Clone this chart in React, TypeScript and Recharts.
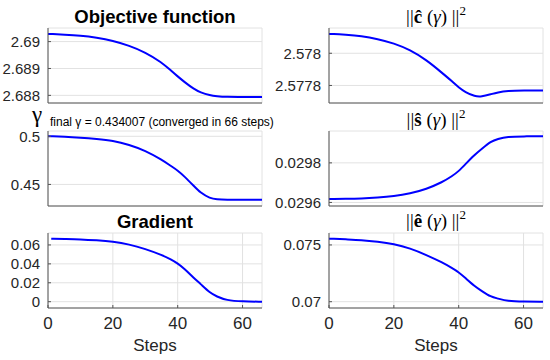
import React from 'react';
import { LineChart, Line, XAxis, YAxis, CartesianGrid } from 'recharts';

const steps = [0, 1, 5, 10, 15, 20, 25, 30, 35, 38, 40, 42, 45, 47, 50, 52, 55, 60, 66];

const objective = [2.690284, 2.690282, 2.690259, 2.690222, 2.690148, 2.690037, 2.689852, 2.689605, 2.689235, 2.688914, 2.688704, 2.688506, 2.688235, 2.688111, 2.688, 2.687969, 2.687941, 2.687938, 2.687938];
const cHatNorm = [2.57812, 2.57812, 2.578115, 2.578107, 2.578089, 2.578062, 2.578021, 2.577959, 2.577876, 2.577825, 2.577788, 2.577759, 2.577732, 2.57773, 2.577746, 2.577757, 2.577767, 2.577769, 2.577769];
const gamma = [0.5, 0.5, 0.499655, 0.498621, 0.497241, 0.495517, 0.491379, 0.485172, 0.475862, 0.468966, 0.464483, 0.458621, 0.448276, 0.441379, 0.435517, 0.434483, 0.434007, 0.434007, 0.434007];
const sHatNorm = [0.029617, 0.029617, 0.029618, 0.02962, 0.029625, 0.029632, 0.029645, 0.029667, 0.029703, 0.029733, 0.029758, 0.029792, 0.029842, 0.029869, 0.029909, 0.029921, 0.029933, 0.029934, 0.029934];
const gradient = [null, 0.066667, 0.066316, 0.065965, 0.064912, 0.063509, 0.060702, 0.055789, 0.049474, 0.044561, 0.040351, 0.035088, 0.024912, 0.018947, 0.009123, 0.005614, 0.001404, 0.0002, 0];
const eHatNorm = [0.075556, 0.075556, 0.075497, 0.075439, 0.075292, 0.075088, 0.074708, 0.074123, 0.07345, 0.072953, 0.072602, 0.072105, 0.071345, 0.070965, 0.070409, 0.070292, 0.070058, 0.07, 0.07];

const stepTicks = [0, 20, 40, 60];
const objectiveTicks = [2.688, 2.689, 2.69];
const cHatTicks = [2.5778, 2.578];
const gammaTicks = [0.45, 0.5];
const sHatTicks = [0.0296, 0.0298];
const gradientTicks = [0, 0.02, 0.04, 0.06];
const eHatTicks = [0.07, 0.075];

const objectiveDomain: [number, number] = [2.687716, 2.690506];
const cHatDomain: [number, number] = [2.577691, 2.578157];
const gammaDomain: [number, number] = [0.42759, 0.50552];
const sHatDomain: [number, number] = [0.029582, 0.029961];
const gradientDomain: [number, number] = [-0.00667, 0.07263];
const eHatDomain: [number, number] = [0.069444, 0.076053];

const SANS = 'Liberation Sans, Arial, Helvetica, sans-serif';
const SERIF = 'Liberation Serif, Times New Roman, serif';
const YTICK = { fill: '#262626', fontSize: 15, fontFamily: SANS };
const XTICK = { fill: '#262626', fontSize: 17, fontFamily: SANS };
const AXIS_STROKE = { stroke: '#555', strokeWidth: 1 };
const PLOT_W = 214;
const PLOT_H = 75;
const PAD = 12;

type PanelProps = {
  values: (number | null)[];
  ticks: number[];
  domain: [number, number];
  left: number;
  top: number;
  yWidth: number;
  showX: boolean;
};

function Panel({ values, ticks, domain, left, top, yWidth, showX }: PanelProps) {
  const data = steps.map((s, i) => ({ step: s, v: values[i] }));
  const xH = showX ? 40 : 1;
  const bottomPad = showX ? 0 : PAD;
  return (
    <div style={{ position: 'absolute', left, top: top - PAD }}>
      <LineChart
        width={yWidth + PLOT_W + 6}
        height={PLOT_H + xH + PAD + bottomPad}
        data={data}
        margin={{ top: PAD, right: 6, bottom: bottomPad, left: 0 }}
      >
        <CartesianGrid stroke="#e2e2e2" strokeWidth={1} />
        <XAxis
          dataKey="step"
          type="number"
          domain={[0, 66]}
          ticks={stepTicks}
          interval={0}
          allowDataOverflow
          height={xH}
          tick={showX ? XTICK : false}
          tickLine={AXIS_STROKE}
          tickSize={-3}
          tickMargin={12}
          axisLine={AXIS_STROKE}
        />
        <YAxis
          type="number"
          domain={domain}
          ticks={ticks}
          interval={0}
          allowDataOverflow
          width={yWidth}
          tick={YTICK}
          tickLine={AXIS_STROKE}
          tickSize={-3}
          tickMargin={11}
          tickFormatter={(v: number) => String(v)}
          axisLine={AXIS_STROKE}
        />
        <Line type="basis" dataKey="v" stroke="#0000ff" strokeWidth={2} dot={false} isAnimationActive={false} connectNulls={false} />
      </LineChart>
    </div>
  );
}

function MathTitle({ x, y, letter }: { x: number; y: number; letter: string }) {
  return (
    <text x={x} y={y} textAnchor="middle" fontFamily={SERIF} fontSize={19} fill="#000">
      <tspan>||</tspan>
      <tspan fontWeight="bold">{letter}</tspan>
      <tspan> (</tspan>
      <tspan fontStyle="italic">γ</tspan>
      <tspan>) ||</tspan>
      <tspan fontSize={13} dy={-8}>2</tspan>
    </text>
  );
}

export default function App() {
  return (
    <div style={{ position: 'absolute', left: 0, top: 0, width: 550, height: 360, background: '#fff' }}>
      <Panel values={objective} ticks={objectiveTicks} domain={objectiveDomain} left={0} top={28} yWidth={48} showX={false} />
      <Panel values={cHatNorm} ticks={cHatTicks} domain={cHatDomain} left={269} top={28} yWidth={60} showX={false} />
      <Panel values={gamma} ticks={gammaTicks} domain={gammaDomain} left={0} top={131} yWidth={48} showX={false} />
      <Panel values={sHatNorm} ticks={sHatTicks} domain={sHatDomain} left={269} top={131} yWidth={60} showX={false} />
      <Panel values={gradient} ticks={gradientTicks} domain={gradientDomain} left={0} top={233} yWidth={48} showX={true} />
      <Panel values={eHatNorm} ticks={eHatTicks} domain={eHatDomain} left={269} top={233} yWidth={60} showX={true} />
      <svg width={550} height={360} style={{ position: 'absolute', left: 0, top: 0, pointerEvents: 'none' }}>
        <text x={155} y={23} textAnchor="middle" fontFamily={SANS} fontWeight="bold" fontSize={18.5} fill="#000">Objective function</text>
        <text x={155} y={227.5} textAnchor="middle" fontFamily={SANS} fontWeight="bold" fontSize={18.5} fill="#000">Gradient</text>
        <MathTitle x={436} y={23} letter="ĉ" />
        <MathTitle x={436} y={125.5} letter="ŝ" />
        <MathTitle x={436} y={227} letter="ê" />
        <text x={32} y={122} fontFamily={SERIF} fontSize={23} fill="#000">γ</text>
        <text x={50} y={125.5} fontFamily={SANS} fontSize={12} fill="#000">final γ = 0.434007 (converged in 66 steps)</text>
        <text x={155} y={351} textAnchor="middle" fontFamily={SANS} fontSize={17} fill="#262626">Steps</text>
        <text x={436} y={351} textAnchor="middle" fontFamily={SANS} fontSize={17} fill="#262626">Steps</text>
      </svg>
    </div>
  );
}
